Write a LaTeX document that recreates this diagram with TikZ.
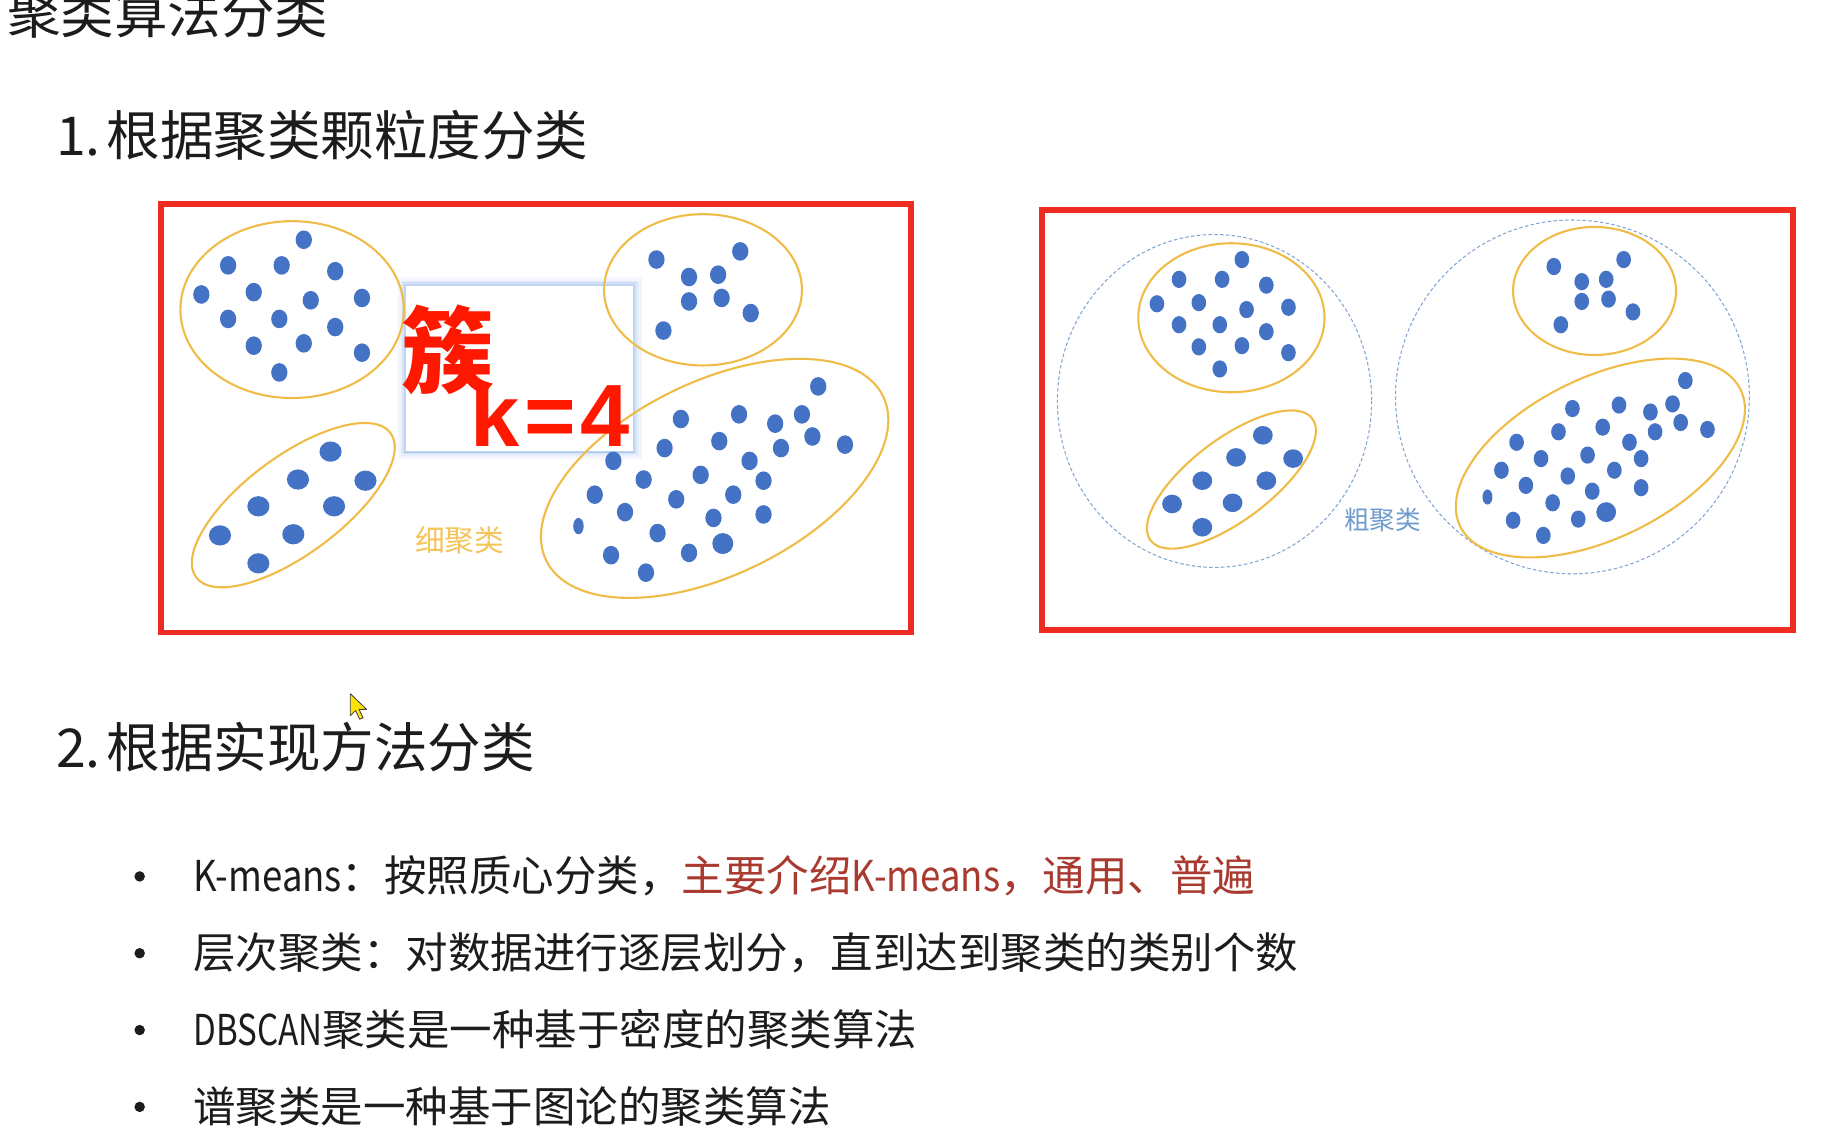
\documentclass[tikz,border=0pt]{standalone}
\usepackage{fontspec}
\setmainfont{Noto Sans CJK SC}
\newfontfamily\latinbold{Liberation Sans}
\usetikzlibrary{calc}
\definecolor{boxred}{RGB}{238,44,34}
\definecolor{ringc}{RGB}{240,188,72}
\definecolor{dotblue}{RGB}{68,114,196}
\definecolor{dashblue}{RGB}{130,165,210}
\definecolor{finelbl}{RGB}{244,196,90}
\definecolor{coarselbl}{RGB}{110,155,205}
\definecolor{kred}{RGB}{168,58,48}
\definecolor{txt}{RGB}{28,28,28}
\definecolor{hred}{RGB}{255,24,0}
\definecolor{glowc}{RGB}{140,180,230}
\newcommand\narrowlat[2]{\scalebox{#1}[1]{#2}}
\tikzset{
  frame/.style={draw=boxred, line width=5pt},
  ring/.style={draw=ringc, line width=1.8pt},
  coarse/.style={draw=dashblue, line width=0.9pt, densely dashed},
  dotfill/.style={fill=dotblue},
  heading/.style={anchor=base west, inner sep=0pt, text=txt, font=\fontsize{46}{50}\selectfont},
  item/.style={anchor=base west, inner sep=0pt, text=txt, font=\fontsize{36.5}{40}\selectfont},
  bulletmark/.style={circle, fill=txt, inner sep=0pt, minimum size=9pt},
  grouplabel/.style={inner sep=0pt},
}
\begin{document}
\begin{tikzpicture}[x=1pt,y=-1pt]
\useasboundingbox (0,0) rectangle (1568,979);
\fill[white] (0,0) rectangle (1568,979);
\clip (0,0) rectangle (1568,979);

% headings
\node[heading] (title) at (6,29) {聚类算法分类};
\node[heading] (g1) at (48,134) {1.\kern5pt根据聚类颗粒度分类};
\node[heading] (g2) at (48,659) {2.\kern5pt根据实现方法分类};

% frames
\draw[frame] (138.5,175.5) rectangle (782.5,543.5);
\draw[frame] (895.5,180.5) rectangle (1540.5,541.5);

% ---------- left panel ----------
% k box (below the rings)
\foreach \i/\o in {1/0.55,2.5/0.35,4/0.22,5.5/0.12,7/0.06}
  \draw[glowc, opacity=\o, line width=1.6pt] (349-\i,246-\i) rectangle (544+\i,387+\i);
\node[fill=white, inner sep=0pt, minimum width=195pt, minimum height=141pt, anchor=north west] (kbox) at (349,246) {};

\draw[ring] (251,266) ellipse [x radius=96, y radius=76];
\draw[ring] (604,249) ellipse [x radius=85, y radius=65];
\draw[ring, rotate around={36.6:(252,434)}] (252,434) ellipse [x radius=104, y radius=42];
\draw[ring, rotate around={26:(614,411)}] (614,411) ellipse [x radius=161, y radius=83];

\foreach \px/\py in {261/206,196/228,242/228,288/233,173/253,218/251,267/258,311/256,196/274,240/274,288/281,218/297,261/295,311/303,240/320,
  564/223,636/216,592/238,617/236,592/259,620/256,645/269,570/284,
  703/332,585/360,635/356,666/364,689/356,571/385,618/379,671/385,698/375,726/382,527/396,644/396,553/412,602/408,656/413,511/425,537/440,581/429,630/425,656/442,613/445,565/458,525/477,592/475,555/492}
  \fill[dotfill] (\px,\py) ellipse [x radius=7, y radius=8];
\fill[dotfill] (497,452) ellipse [x radius=4.5, y radius=7];
\fill[dotfill] (621,467) ellipse [x radius=9, y radius=9];
\foreach \px/\py in {284/388,256/412,314/413,222/435,287/435,189/460,252/459,222/484}
  \fill[dotfill] (\px,\py) ellipse [x radius=9.5, y radius=8.7];

\node[grouplabel, text=finelbl, font=\fontsize{25.5}{28}\selectfont] (fine) at (395,464) {细聚类};

\node[inner sep=0pt, text=hred, font=\fontsize{80}{84}\selectfont\bfseries] (cu) at (385,301) {簇};
\node[anchor=base west, inner sep=0pt, text=hred, font=\latinbold\bfseries\fontsize{76}{80}\selectfont] (kval) at (404,384) {k\kern4pt=\kern4pt4};

% ---------- right panel ----------
\draw[coarse] (1043.5,344.5) ellipse [x radius=135, y radius=143];
\draw[coarse] (1351,341) ellipse [x radius=152, y radius=152];
\draw[ring] (1058,273) ellipse [x radius=80, y radius=64];
\draw[ring] (1370,250) ellipse [x radius=70, y radius=55];
\draw[ring, rotate around={37:(1058,412)}] (1058,412) ellipse [x radius=87, y radius=35];
\draw[ring, rotate around={26:(1375,393.5)}] (1375,393.5) ellipse [x radius=134, y radius=69];

\foreach \px/\py in {1067/223,1013/240,1050/240,1088/245,994/261,1030/260,1071/266,1107/264,1013/279,1048/279,1088/285,1030/298,1067/297,1107/303,1048/317,
  1335/229,1395/223,1359/242,1380/240,1359/259,1382/257,1403/268,1341/279,
  1448/327,1351/351,1391/348,1418/354,1437/347,1339/371,1377/367,1422/371,1444/363,1467/369,1303/380,1400/380,1324/394,1364/391,1410/394,1290/404,1311/417,1347/409,1387/404,1410/419,1368/422,1334/432,1300/447,1356/446,1326/460}
  \fill[dotfill] (\px,\py) ellipse [x radius=6.3, y radius=7.4];
\fill[dotfill] (1278,427) ellipse [x radius=4.3, y radius=6.5];
\fill[dotfill] (1380,440) ellipse [x radius=8.5, y radius=8.5];
\foreach \px/\py in {1085/374,1062/393,1111/394,1033/413,1088/413,1007/433,1059/432,1033/453}
  \fill[dotfill] (\px,\py) ellipse [x radius=8.5, y radius=8];

\node[grouplabel, text=coarselbl, font=\fontsize{22}{24}\selectfont] (coarse) at (1188,447) {粗聚类};

% cursor
\filldraw[fill=yellow!85!orange, draw=black!75, line width=0.7pt, line join=round]
  (301,596) -- ++(0,19) -- ++(4.5,-4.5) -- ++(3.5,7.5) -- ++(3,-1.3) -- ++(-3.5,-7.2) -- ++(6.5,0) -- cycle;

% bullet list
\node[bulletmark] (b1) at (120,753) {};
\node[bulletmark] (b2) at (120,819) {};
\node[bulletmark] (b3) at (120,885) {};
\node[bulletmark] (b4) at (120,951) {};
\node[item] (i1) at (166,766) {\narrowlat{0.86}{K-means}：按照质心分类，\textcolor{kred}{主要介绍\narrowlat{0.86}{K-means}，通用、普遍}};
\node[item] (i2) at (166,832) {层次聚类：对数据进行逐层划分，直到达到聚类的类别个数};
\node[item] (i3) at (166,898) {\narrowlat{0.78}{DBSCAN}聚类是一种基于密度的聚类算法};
\node[item] (i4) at (166,964) {谱聚类是一种基于图论的聚类算法};
\end{tikzpicture}
\end{document}
